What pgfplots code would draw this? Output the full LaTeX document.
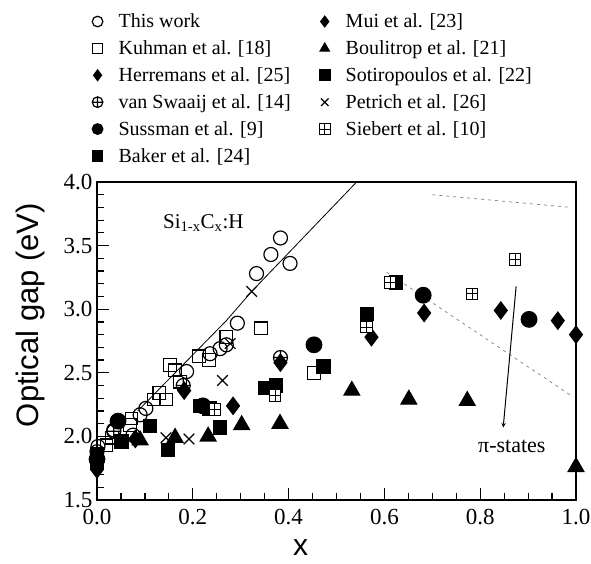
\documentclass[border=0pt]{standalone}
\usepackage{fontspec}
\setmainfont{Liberation Serif}
\newfontfamily\arial{Liberation Sans}
\usepackage{pgfplots}
\pgfplotsset{compat=1.18}
\pgfdeclareplotmark{sqplus}{%
 \pgfpathrectangle{\pgfpoint{-\pgfplotmarksize}{-\pgfplotmarksize}}{\pgfpoint{2\pgfplotmarksize}{2\pgfplotmarksize}}%
 \pgfpathmoveto{\pgfpoint{-\pgfplotmarksize}{0pt}}\pgfpathlineto{\pgfpoint{\pgfplotmarksize}{0pt}}%
 \pgfpathmoveto{\pgfpoint{0pt}{-\pgfplotmarksize}}\pgfpathlineto{\pgfpoint{0pt}{\pgfplotmarksize}}%
 \pgfusepathqfillstroke}
\begin{document}
\begin{tikzpicture}
\path[use as bounding box] (0pt,0pt) rectangle (591pt,563pt);
\begin{axis}[
  at={(97pt,63pt)}, anchor=south west,
  scale only axis, width=479pt, height=318pt,
  xmin=0, xmax=1, ymin=1.5, ymax=4.0,
  xtick={0,0.2,...,1.0}, minor xtick={0.05,0.1,...,0.95},
  ytick={1.5,2.0,...,4.0}, minor ytick={1.6,1.7,...,3.9},
  xticklabels={0.0,0.2,0.4,0.6,0.8,1.0},
  yticklabels={1.5,2.0,2.5,3.0,3.5,4.0},
  tick pos=left, tick align=inside,
  major tick length=12pt, minor tick length=7pt,
  every tick/.style={black, line width=1.2pt},
  axis line style={line width=1.5pt},
  tick label style={font=\fontsize{23}{25}\selectfont},
  xticklabel style={yshift=-6pt},
  yticklabel style={xshift=-1pt},
  /pgf/number format/assume math mode=true,
  xlabel={\arial\fontsize{30}{32}\selectfont x},
  ylabel={\arial\fontsize{31}{33}\selectfont Optical gap (eV)},
  xlabel style={yshift=-8pt, xshift=-36pt},
  ylabel style={yshift=12pt, xshift=26pt},
  clip=false,
  legend columns=2,
  legend cell align=left,
  legend image code/.code={\path[draw=none,fill=none] (-6pt,0pt) -- (19pt,0pt);
     \draw[#1, mark size=5.3pt] plot coordinates {(0pt,0pt)};},
  legend style={draw=none, fill=none, at={(-0.018,1.542)}, anchor=north west,
    font=\fontsize{20}{22}\selectfont, row sep=7.5pt,
    /tikz/column 2/.style={column sep=26pt}},
  every axis plot/.append style={line width=1.2pt},
]
% This work
\addplot[only marks, mark=o, mark size=7pt, mark options={fill=white}] coordinates {
(0.002,1.92) (0.035,2.05) (0.075,2.01) (0.09,2.17) (0.102,2.22) (0.187,2.51) (0.236,2.65)
(0.257,2.69) (0.27,2.72) (0.293,2.89) (0.333,3.28) (0.363,3.43) (0.383,3.56) (0.403,3.36)};
\addlegendentry{This work}
% Mui
\addplot[only marks, mark=diamond*, mark size=8.5pt] coordinates {
(0.683,2.97) (0.843,2.99) (0.962,2.91) (1.0,2.80)};
\addlegendentry{Mui et al. [23]}
% Kuhman
\addplot[only marks, mark=square, mark size=6.3pt, mark options={fill=white}] coordinates {
(0.02,1.93) (0.031,1.99) (0.069,2.09) (0.072,2.14) (0.119,2.29) (0.13,2.34) (0.144,2.29)
(0.152,2.56) (0.163,2.52) (0.173,2.43) (0.213,2.63) (0.234,2.60) (0.27,2.78) (0.342,2.85) (0.453,2.50)};
\addlegendentry{Kuhman et al. [18]}
% Boulitrop
\addplot[only marks, mark=triangle*, mark size=9pt] coordinates {
(0.09,1.97) (0.163,1.99) (0.232,2.0) (0.302,2.09) (0.382,2.10) (0.532,2.36) (0.651,2.29) (0.773,2.28) (1.0,1.76)};
\addlegendentry{Boulitrop et al. [21]}
% Herremans
\addplot[only marks, mark=diamond*, mark size=8.5pt] coordinates {
(0.0,1.74) (0.08,1.98) (0.182,2.36) (0.284,2.24) (0.383,2.58) (0.573,2.78)};
\addlegendentry{Herremans et al. [25]}
% Sotiropoulos
\addplot[only marks, mark=square*, mark size=6.5pt] coordinates {
(0.215,2.24) (0.235,2.22) (0.351,2.38) (0.374,2.40) (0.473,2.55) (0.563,2.96) (0.624,3.21)};
\addlegendentry{Sotiropoulos et al. [22]}
% van Swaaij
\addplot[only marks, mark=oplus, mark size=7pt, mark options={fill=white}] coordinates {
(0.0,1.88) (0.035,2.04) (0.18,2.40) (0.383,2.62)};
\addlegendentry{van Swaaij et al. [14]}
% Petrich
\addplot[only marks, mark=x, mark size=7.5pt] coordinates {
(0.144,1.99) (0.192,1.98) (0.262,2.44) (0.278,2.73) (0.323,3.14)};
\addlegendentry{Petrich et al. [26]}
% Sussman
\addplot[only marks, mark=*, mark size=7.8pt] coordinates {
(0.0,1.82) (0.044,2.12) (0.221,2.24) (0.453,2.72) (0.681,3.11) (0.902,2.92)};
\addlegendentry{Sussman et al. [9]}
% Siebert
\addplot[only marks, mark=sqplus, mark size=5.8pt, line width=1pt, mark options={fill=white}] coordinates {
(0.246,2.21) (0.372,2.32) (0.563,2.86) (0.612,3.21) (0.783,3.12) (0.873,3.39)};
\addlegendentry{Siebert et al. [10]}
% Baker
\addplot[only marks, mark=square*, mark size=6.5pt] coordinates {
(0.0,1.86) (0.0,1.80) (0.051,1.96) (0.111,2.08) (0.148,1.89) (0.257,2.07)};
\addlegendentry{Baker et al. [24]}
% lines
\addplot[forget plot, no marks, line width=0.8pt] coordinates {(0.085,2.20) (0.27,2.91) (0.323,3.14) (0.542,4.0)};
\addplot[forget plot, no marks, line width=0.7pt, gray, dash pattern=on 3pt off 4pt] coordinates {(0.70,3.90) (0.99,3.80)};
\addplot[forget plot, no marks, line width=0.7pt, gray, dash pattern=on 3pt off 4pt] coordinates {(0.605,3.29) (0.994,2.31)};
\addplot[forget plot, no marks, line width=1pt, -stealth] coordinates {(0.875,3.18) (0.848,2.07)};
\node[font=\fontsize{21}{23}\selectfont] at (axis cs:0.222,3.68) {Si\textsubscript{1-x}C\textsubscript{x}:H};
\node[font=\fontsize{22}{24}\selectfont] at (axis cs:0.866,1.92) {π-states};
\end{axis}
\end{tikzpicture}
\end{document}
